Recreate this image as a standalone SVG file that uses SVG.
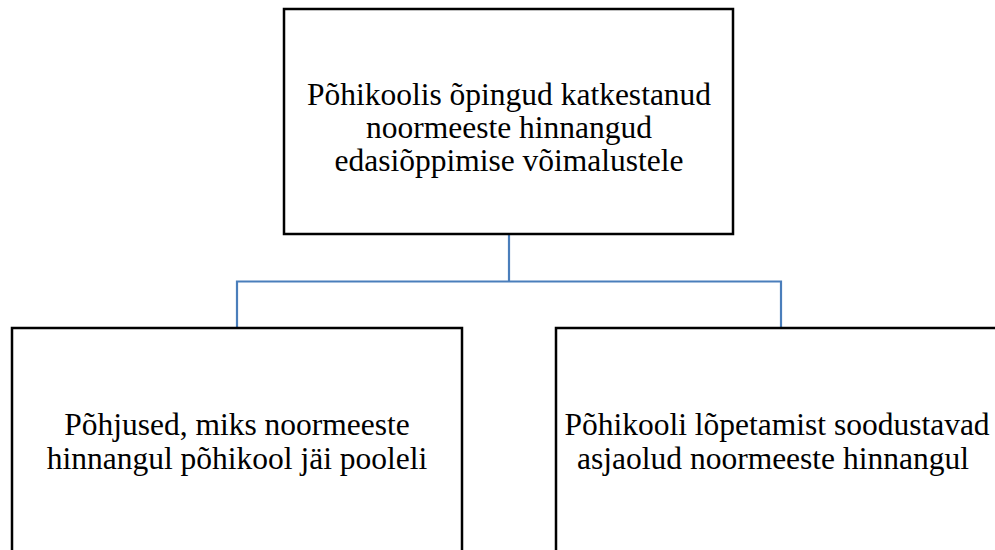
<svg xmlns="http://www.w3.org/2000/svg" width="995" height="550" viewBox="0 0 995 550">
<style>
.box{fill:#fff;stroke:#000;stroke-width:2.5}
.t{font-family:"Liberation Serif","Times New Roman",serif;font-size:31.5px;fill:#000;text-anchor:middle}
.c{fill:none;stroke:#4a7ebb;stroke-width:2.2}
</style>
<rect width="995" height="550" fill="#fff"/>
<g id="connectors">
<path class="c" d="M509 234 V281.5"/>
<path class="c" d="M237 328 V281.5 H781 V328"/>
</g>
<g id="top">
<rect class="box" x="284" y="9" width="449" height="225"/>
<text class="t" x="509" y="105">Põhikoolis õpingud katkestanud</text>
<text class="t" x="509" y="138">noormeeste hinnangud</text>
<text class="t" x="509" y="171">edasiõppimise võimalustele</text>
</g>
<g id="left">
<rect class="box" x="12" y="328" width="450" height="240"/>
<text class="t" x="237" y="435">Põhjused, miks noormeeste</text>
<text class="t" x="237" y="469">hinnangul põhikool jäi pooleli</text>
</g>
<g id="right">
<rect class="box" x="556" y="328" width="450" height="240"/>
<text class="t" x="777" y="435">Põhikooli lõpetamist soodustavad</text>
<text class="t" x="773" y="469">asjaolud noormeeste hinnangul</text>
</g>
</svg>
